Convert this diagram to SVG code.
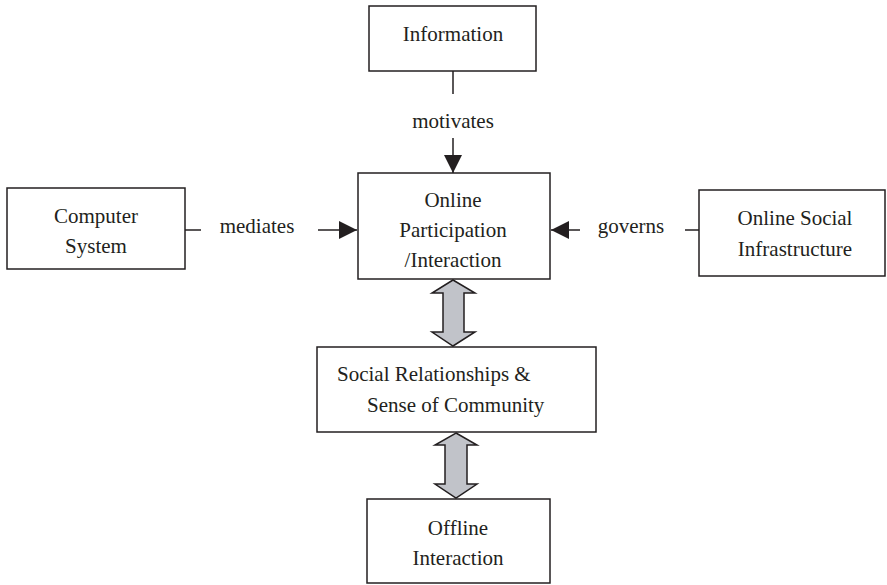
<svg xmlns="http://www.w3.org/2000/svg" width="887" height="585" viewBox="0 0 887 585">
<style>
.box{fill:#fff;stroke:#231f20;stroke-width:1.5}
.t{font-family:"Liberation Serif","Times New Roman",serif;font-size:21px;fill:#231f20;text-anchor:middle}
.ln{stroke:#231f20;stroke-width:1.5;fill:none}
.dbl{fill:#c1c3c9;stroke:#231f20;stroke-width:1.5;stroke-linejoin:miter}
</style>
<defs>
<marker id="ah" markerWidth="18" markerHeight="18" viewBox="0 0 18 18" refX="18" refY="9" orient="auto" markerUnits="userSpaceOnUse">
<path d="M0,0 L18,9 L0,18 Z" fill="#231f20"/>
</marker>
</defs>
<rect width="887" height="585" fill="#fff"/>
<g id="connectors">
<line class="ln" x1="453" y1="71" x2="453" y2="94"/>
<text class="t" x="453" y="128">motivates</text>
<line class="ln" x1="453" y1="138" x2="453" y2="173" marker-end="url(#ah)"/>
<line class="ln" x1="185" y1="230" x2="201" y2="230"/>
<text class="t" x="257" y="233">mediates</text>
<line class="ln" x1="318" y1="230" x2="357" y2="230" marker-end="url(#ah)"/>
<line class="ln" x1="699" y1="230" x2="685" y2="230"/>
<text class="t" x="631" y="233">governs</text>
<line class="ln" x1="580" y1="230" x2="551" y2="230" marker-end="url(#ah)"/>
<polygon class="dbl" points="453,280 475,293 464,293 464,332 475,332 453,346 432,332 443,332 443,293 432,293"/>
<polygon class="dbl" points="456,433 477,445 467,445 467,484 477,484 456,498 435,484 445,484 445,445 435,445"/>
</g>
<g id="information">
<rect class="box" x="369" y="6" width="167" height="65"/>
<text class="t" x="453" y="41">Information</text>
</g>
<g id="online-participation">
<rect class="box" x="358" y="173" width="192" height="106"/>
<text class="t" x="453" y="207">Online</text>
<text class="t" x="453" y="237">Participation</text>
<text class="t" x="453" y="267">/Interaction</text>
</g>
<g id="computer-system">
<rect class="box" x="7" y="188" width="178" height="81"/>
<text class="t" x="96" y="223">Computer</text>
<text class="t" x="96" y="253">System</text>
</g>
<g id="online-social-infrastructure">
<rect class="box" x="699" y="190" width="186" height="86"/>
<text class="t" x="795" y="225">Online Social</text>
<text class="t" x="795" y="256">Infrastructure</text>
</g>
<g id="social-relationships">
<rect class="box" x="317" y="347" width="279" height="85"/>
<text class="t" x="337" y="381" text-anchor="start" style="text-anchor:start">Social Relationships &amp;</text>
<text class="t" x="367" y="412" style="text-anchor:start">Sense of Community</text>
</g>
<g id="offline-interaction">
<rect class="box" x="367" y="499" width="183" height="84"/>
<text class="t" x="458" y="535">Offline</text>
<text class="t" x="458" y="565">Interaction</text>
</g>
</svg>
